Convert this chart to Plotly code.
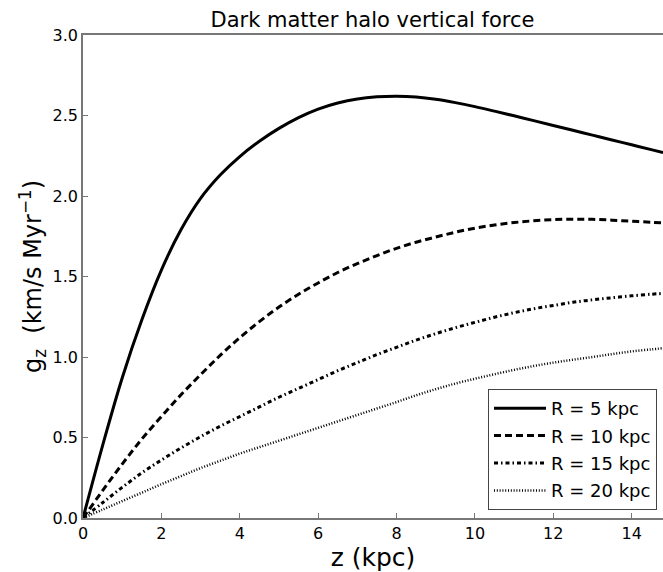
import plotly.graph_objects as go

z_kpc = [0, 0.5, 1, 1.5, 2, 2.5, 3, 3.5, 4, 4.5, 5, 5.5, 6, 6.5, 7, 7.5,
         8, 8.5, 9, 9.5, 10, 10.5, 11, 11.5, 12, 12.5, 13, 13.5, 14, 14.5, 14.8]

gz_R5 = [0, 0.45, 0.87, 1.23, 1.54, 1.79, 1.985, 2.13, 2.245, 2.34, 2.42, 2.487, 2.54, 2.578, 2.603, 2.616,
         2.62, 2.615, 2.601, 2.58, 2.555, 2.527, 2.498, 2.468, 2.438, 2.408, 2.378, 2.348, 2.318, 2.288, 2.27]
gz_R10 = [0, 0.17, 0.335, 0.49, 0.63, 0.765, 0.89, 1.01, 1.12, 1.22, 1.31, 1.39, 1.46, 1.525, 1.58, 1.63,
          1.675, 1.713, 1.745, 1.775, 1.80, 1.82, 1.835, 1.846, 1.853, 1.856, 1.855, 1.85, 1.843, 1.837, 1.833]
gz_R15 = [0, 0.095, 0.19, 0.28, 0.36, 0.435, 0.505, 0.57, 0.63, 0.69, 0.75, 0.805, 0.86, 0.915, 0.965, 1.015,
          1.06, 1.105, 1.145, 1.182, 1.215, 1.247, 1.275, 1.30, 1.32, 1.34, 1.355, 1.368, 1.38, 1.39, 1.395]
gz_R20 = [0, 0.052, 0.105, 0.157, 0.21, 0.26, 0.31, 0.355, 0.40, 0.44, 0.48, 0.52, 0.56, 0.60, 0.64, 0.68,
          0.72, 0.762, 0.80, 0.835, 0.865, 0.893, 0.92, 0.944, 0.965, 0.983, 1.00, 1.018, 1.035, 1.047, 1.055]

series_names = ["R = 5 kpc", "R = 10 kpc", "R = 15 kpc", "R = 20 kpc"]
series_vals = [gz_R5, gz_R10, gz_R15, gz_R20]
dashes = ["solid", "7px,4px", "4px,3px,1.5px,3px", "1px,1.8px"]

fig = go.Figure()
for i, (name, vals, d) in enumerate(zip(series_names, series_vals, dashes)):
    fig.add_trace(go.Scatter(
        x=z_kpc, y=vals, mode="lines", name=name,
        line=dict(color="black", width=3 if i < 3 else 2.5, dash=d, shape="spline", smoothing=1),
        legendgroup=f"g{i}",
    ))

font_family = "DejaVu Sans, sans-serif"
axis_common = dict(
    showline=True, linecolor="#777777", linewidth=1.5,
    ticks="inside", ticklen=5, tickcolor="#777777", tickwidth=1,
    showgrid=False, zeroline=False, automargin=False,
    tickfont=dict(size=16, color="black", family=font_family),
)

fig.update_layout(
    width=663, height=572,
    margin=dict(l=83, r=0, t=35, b=54),
    paper_bgcolor="white", plot_bgcolor="white",
    font=dict(family=font_family, color="black"),
    title=dict(text="Dark matter halo vertical force", x=(83 + 662) / 2 / 663, xanchor="center",
               y=1 - 20 / 572, yanchor="middle", font=dict(size=21)),
    xaxis=dict(range=[0, 14.8], dtick=2, tick0=0, mirror=True,
               title=dict(text="z (kpc)", font=dict(size=25), standoff=3), **axis_common),
    yaxis=dict(range=[0, 3.0], dtick=0.5, tick0=0, tickformat=".1f", mirror=False,
               title=dict(text="g<sub>z</sub>  (km/s Myr<sup>−1</sup>)", font=dict(size=24), standoff=4),
               **axis_common),
    legend=dict(x=(488 - 83) / 580, xanchor="left", y=(518 - 510) / 483, yanchor="bottom",
                bordercolor="#444444", borderwidth=1, bgcolor="white",
                font=dict(size=18, family=font_family), tracegroupgap=1, itemwidth=52),
    showlegend=True,
)

fig.write_html("out.html", config={"displayModeBar": False},
               post_script="document.body.style.margin='0px';")
